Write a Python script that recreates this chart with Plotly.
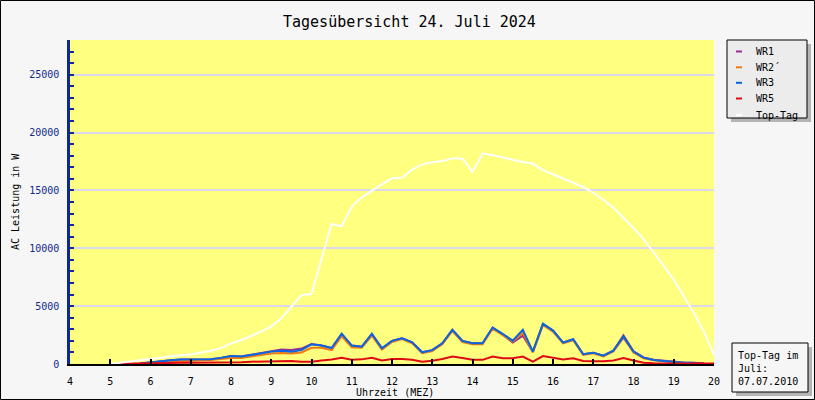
import plotly.graph_objects as go

# ---- data (hours, watts) ----
hours = [5.0, 5.25, 5.5, 5.75, 6.0, 6.25, 6.5, 6.75, 7.0, 7.25, 7.5, 7.75,
         8.0, 8.25, 8.5, 8.75, 9.0, 9.25, 9.5, 9.75, 10.0, 10.25, 10.5, 10.75,
         11.0, 11.25, 11.5, 11.75, 12.0, 12.25, 12.5, 12.75, 13.0, 13.25, 13.5, 13.75,
         14.0, 14.25, 14.5, 14.75, 15.0, 15.25, 15.5, 15.75, 16.0, 16.25, 16.5, 16.75,
         17.0, 17.25, 17.5, 17.75, 18.0, 18.25, 18.5, 18.75, 19.0, 19.25, 19.5, 19.75, 20.0]

wr3 = [None, None, None, 50, 150, 230, 320, 380, 400, 410, 420, 530,
       690, 640, 790, 980, 1070, 1150, 1070, 1210, 1700, 1600, 1380, 2600,
       1590, 1500, 2600, 1360, 2000, 2230, 1880, 1010, 1200, 1790, 2950, 1990,
       1790, 1790, 3150, 2600, 2020, 2950, 1070, 3470, 2890, 1850, 2140, 840,
       980, 720, 1150, 2370, 1070, 550, 350, 260, 170, 110, 100, None, None]

wr1 = [None, None, None, 50, 150, 230, 320, 380, 400, 410, 420, 530,
       690, 640, 790, 980, 1070, 1250, 1200, 1330, 1720, 1600, 1380, 2600,
       1590, 1500, 2600, 1360, 2000, 2230, 1880, 1010, 1200, 1790, 2950, 1990,
       1790, 1790, 3150, 2550, 1850, 2450, 1070, 3470, 2890, 1850, 2140, 840,
       980, 720, 1150, 2480, 1100, 570, 360, 270, 180, 120, 110, 60, None]

wr2 = [None, None, None, None, 60, 120, 180, 250, 300, 320, 350, 420,
       520, 520, 650, 800, 900, 950, 900, 1000, 1400, 1400, 1200, 2400,
       1450, 1400, 2450, 1250, 1900, 2150, 1780, 930, 1120, 1700, 2850, 1900,
       1700, 1700, 3050, 2500, 1950, 2700, 1000, 3350, 2800, 1780, 2050, 780,
       920, 660, 1080, 2250, 1000, 500, 320, 230, 150, 90, 60, None, None]

wr5 = [None, 30, 50, 60, 70, 80, 90, 100, 100, 100, 100, 110,
       120, 150, 200, 220, 260, 290, 250, 200, 200, 300, 380, 540,
       360, 400, 540, 300, 440, 440, 360, 200, 280, 430, 640, 520,
       360, 360, 640, 500, 490, 640, 200, 690, 550, 400, 500, 260,
       230, 230, 300, 520, 300, 110, 60, 50, 40, 40, 40, 40, 40]

toptag = [0, 100, 200, 300, 400, 550, 680, 750, 830, 1000, 1150, 1370,
          1780, 2050, 2400, 2800, 3240, 3950, 4950, 5950, 6070, 9200, 12100, 11900,
          13600, 14400, 15000, 15550, 16050, 16100, 16800, 17250, 17430, 17550, 17770, 17770,
          16600, 18200, 18050, 17850, 17600, 17450, 17300, 16750, 16400, 16050, 15700, 15300,
          14800, 14200, 13500, 12650, 11760, 10800, 9700, 8500, 7280, 5900, 4400, 2800, 800]

series_names = ["WR1", "WR2´", "WR3", "WR5", "Top-Tag"]
series_vals = [wr1, wr2, wr3, wr5, toptag]
series_colors = ["#9b2d8f", "#f07a10", "#0a66e0", "#e00a14", "#ffffff"]

x_ticks = list(range(4, 21))
y_ticks = [0, 5000, 10000, 15000, 20000, 25000]

title_text = "Tagesübersicht 24. Juli 2024"
x_title = "Uhrzeit (MEZ)"
y_title = "AC Leistung in W"
note_text = "Top-Tag im<br>Juli:<br>07.07.2010"

# ---- geometry ----
W, H = 815, 400
ML, MR, MT, MB = 70, 101, 40, 36
PW, PH = W - ML - MR, H - MT - MB


def px(x):
    return (x - ML) / PW


def py(y):
    return 1 - (y - MT) / PH


FONT = "DejaVu Sans Mono"
NAVY = "#102a8c"

fig = go.Figure()
for name, vals, col in zip(series_names, series_vals, series_colors):
    fig.add_trace(go.Scatter(x=hours, y=vals, name=name, mode="lines",
                             line=dict(color=col, width=2), showlegend=False,
                             connectgaps=False))

shapes = []
annotations = []

# outer border of the page
shapes.append(dict(type="rect", xref="paper", yref="paper",
                   x0=px(0.5), x1=px(W - 0.5), y0=py(H - 0.5), y1=py(0.5),
                   line=dict(color="black", width=1), layer="above"))

# legend box with shadow
lx0, lx1, ly0, ly1 = 727, 807, 40, 118
shapes.append(dict(type="rect", xref="paper", yref="paper",
                   x0=px(lx0 + 4), x1=px(lx1 + 4), y0=py(ly1 + 4), y1=py(ly0 + 4),
                   fillcolor="#b4b4b4", line=dict(width=0), layer="above"))
shapes.append(dict(type="rect", xref="paper", yref="paper",
                   x0=px(lx0), x1=px(lx1), y0=py(ly1), y1=py(ly0),
                   fillcolor="#ececec", line=dict(color="black", width=1), layer="above"))
entry_y = [51.5, 67.3, 82.8, 98.5, 115]
for name, col, ey in zip(series_names, series_colors, entry_y):
    shapes.append(dict(type="line", xref="paper", yref="paper",
                       x0=px(736), x1=px(742), y0=py(ey), y1=py(ey),
                       line=dict(color=col, width=2), layer="above"))
    annotations.append(dict(text=name, xref="paper", yref="paper", x=px(754), y=py(ey),
                            xanchor="left", yanchor="middle", showarrow=False,
                            font=dict(family=FONT, size=10, color="black")))

# note box bottom right
nx0, nx1, ny0, ny1 = 732, 808, 343, 392
shapes.append(dict(type="rect", xref="paper", yref="paper",
                   x0=px(nx0 + 4), x1=px(nx1 + 4), y0=py(ny1 + 4), y1=py(ny0 + 4),
                   fillcolor="#b4b4b4", line=dict(width=0), layer="above"))
shapes.append(dict(type="rect", xref="paper", yref="paper",
                   x0=px(nx0), x1=px(nx1), y0=py(ny1), y1=py(ny0),
                   fillcolor="#f6f6f6", line=dict(color="black", width=1), layer="above"))
annotations.append(dict(text=note_text, xref="paper", yref="paper", x=px(736), y=py(348),
                        xanchor="left", yanchor="top", align="left", showarrow=False,
                        font=dict(family=FONT, size=10, color="black")))

# titles
annotations.append(dict(text=title_text, xref="paper", yref="paper", x=px(409), y=py(22),
                        xanchor="center", yanchor="middle", showarrow=False,
                        font=dict(family=FONT, size=15, color="black")))
annotations.append(dict(text=x_title, xref="paper", yref="paper", x=px(395), y=py(392),
                        xanchor="center", yanchor="middle", showarrow=False,
                        font=dict(family=FONT, size=10, color="black")))
annotations.append(dict(text=y_title, xref="paper", yref="paper", x=px(15), y=py(202),
                        xanchor="center", yanchor="middle", showarrow=False, textangle=-90,
                        font=dict(family=FONT, size=10, color="black")))

fig.update_layout(
    width=W, height=H,
    margin=dict(l=ML, r=MR, t=MT, b=MB, pad=0),
    paper_bgcolor="#f6f6f6",
    plot_bgcolor="#ffff80",
    showlegend=False,
    shapes=shapes,
    annotations=annotations,
    xaxis=dict(range=[4, 20], tickvals=x_ticks, ticktext=[str(t) for t in x_ticks],
               ticks="inside", ticklen=5, tickwidth=1.5, tickcolor="black",
               showline=True, linecolor="black", linewidth=2, showgrid=False,
               zeroline=False, ticklabelstandoff=7,
               tickfont=dict(family=FONT, size=10, color="black")),
    yaxis=dict(range=[0, 28000], tickvals=y_ticks, ticktext=[str(t) for t in y_ticks],
               ticks="inside", ticklen=4, tickwidth=1.5, tickcolor=NAVY,
               showline=True, linecolor=NAVY, linewidth=2.5,
               showgrid=True, gridcolor="#d9d9ea", gridwidth=1.5,
               zeroline=False, ticklabelstandoff=6,
               minor=dict(dtick=1000, ticks="inside", ticklen=4, tickcolor=NAVY,
                          tickwidth=1.5, showgrid=False),
               tickfont=dict(family=FONT, size=10, color=NAVY)),
)

fig.write_html("out.html")
